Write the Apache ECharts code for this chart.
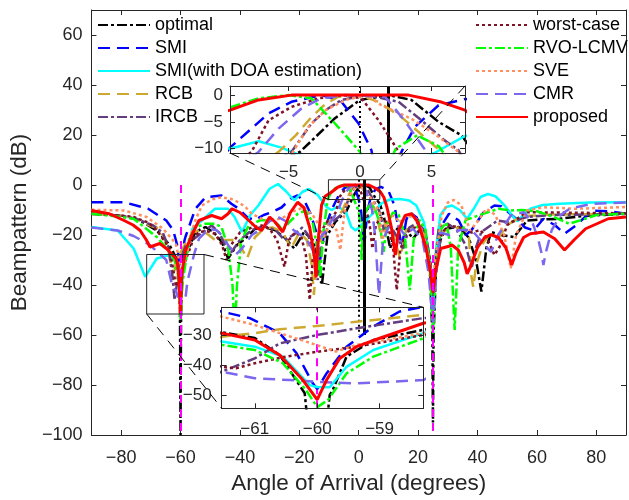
<!DOCTYPE html>
<html>
<head>
<meta charset="utf-8">
<script src="https://cdn.jsdelivr.net/npm/echarts@6/dist/echarts.min.js"></script>
<style>html,body{margin:0;padding:0;background:#fff;}#c{width:629px;height:500px;}</style>
</head>
<body>
<div id="c"></div>
<script>
// ---------- data (angle in degrees, beampattern in dB) ----------
const optimal = [[-90,-11.5],[-84,-11.8],[-78,-12.8],[-73.6,-14.2],[-68,-18.2],[-63.7,-24],[-61.53,-29.1],[-61,-31],[-60.6,-36.7],[-60.2,-49.4],[-60.1,-70],[-60,-100],[-59.9,-70],[-59.8,-50],[-59.75,-48.3],[-59.53,-37.2],[-59.1,-31.7],[-58.3,-28.3],[-55,-18.8],[-51.6,-16.8],[-48.9,-18.8],[-46,-23],[-44,-29.4],[-41,-24],[-38.2,-21.5],[-34.9,-17.5],[-31.5,-17],[-28.3,-18],[-25,-21],[-21.7,-25.4],[-18.4,-18.8],[-15.5,-22],[-13.5,-30],[-12.4,-40],[-10.5,-20],[-8,-15],[-6,-12.5],[-4.2,-10.6],[-1.75,-4.3],[0,-0.9],[2,0],[3.6,-0.9],[5.5,-5],[7.1,-7.5],[8.4,-12.2],[10.6,-25.4],[12,-19],[13.9,-16.2],[16,-18],[18.3,-21.5],[20.5,-18],[22.5,-22],[24,-35],[24.8,-60],[25,-95],[25.2,-60],[26,-35],[27.5,-22],[29.3,-17.5],[33.7,-16.8],[37,-21],[39.5,-30],[41.3,-42.6],[43,-25],[44.6,-18.8],[47.9,-20],[52.3,-20.8],[56.7,-14.2],[62,-13.8],[67.6,-13.5],[75,-12.5],[82,-12],[90,-11.5]];
const smi = [[-90,-6.9],[-79,-6.9],[-70.9,-9.5],[-64.8,-14.2],[-62.5,-18],[-61.53,-22.2],[-61.08,-24.4],[-60.6,-29.4],[-60.33,-36.1],[-60.07,-46.1],[-60,-48],[-59.85,-42.8],[-59.53,-33.9],[-59.1,-27.2],[-58.68,-22.2],[-58.3,-20.6],[-55,-9.5],[-51.6,-4.9],[-46.2,-4.2],[-42.9,-7.5],[-40.4,-9.5],[-37.5,-13],[-34.9,-14],[-32,-12],[-29.4,-10.9],[-26,-9],[-23,-5.5],[-20.6,-4.2],[-18,-7],[-16.2,-11.5],[-14.5,-18],[-13,-30],[-11.5,-18],[-9.1,-9.8],[-6.4,-3.4],[-4.8,-1.25],[-2.7,0],[-1.4,-0.9],[-0.1,-5.3],[0.8,-10.3],[1.8,-25],[2.9,-10.6],[3.85,-5.9],[5.5,-1.9],[7.4,-0.7],[10,-2.3],[12,-8],[14.5,-25],[16,-14],[17.2,-10.9],[19.5,-13],[22,-20],[24,-32],[25,-50],[26,-30],[28,-16],[30.4,-11.5],[33.7,-14.2],[36,-20],[38,-18],[42,-11],[45.7,-8.2],[48,-8.5],[52.3,-12.8],[56,-17],[58.9,-18.2],[62.2,-13.5],[66,-16],[69.3,-19.5],[73.1,-16.2],[78.6,-10.2],[84,-10.5],[90,-11.5]];
const smiDoa = [[-90,-16.8],[-81.2,-18.2],[-75.8,-25.4],[-71.9,-36.7],[-68,-29.4],[-63.7,-28],[-62,-30],[-61.53,-32.2],[-61,-33.9],[-60.55,-37.2],[-60.12,-46.7],[-60,-47.3],[-59.8,-47.4],[-59.53,-40.6],[-59.1,-35],[-58.3,-29.4],[-56,-17.5],[-52.8,-14.2],[-48.4,-9.5],[-44,-9.5],[-41.8,-12.8],[-39.3,-18.8],[-36.5,-12],[-33.8,-8.2],[-30,-1.5],[-27.2,0.4],[-24.5,-2.5],[-21.7,-6.2],[-19,-2.8],[-16.8,-1.6],[-13.8,-4],[-10.8,-8.9],[-9.1,-10],[-7.1,-8.6],[-5.5,-9.8],[-4.2,-11.2],[-2.5,-16.8],[-1,-18.2],[0.8,-16],[3,-13.5],[5.2,-10.8],[7.3,-7.7],[8.4,-6.9],[10.5,-5.8],[13.9,-5.6],[17,-6.2],[19.4,-8.2],[22,-15],[24,-30],[25,-50],[26,-26],[27.5,-12],[29.5,-8.8],[31.4,-8.2],[34,-10],[36.5,-13.5],[39,-9],[41,-4.8],[43.5,-3.6],[46,-4.5],[49,-8],[51.5,-12],[53.4,-14.5],[55.5,-12],[57.8,-9.5],[62,-8],[67.6,-7.5],[78,-7],[90,-6.9]];
const rcb = [[-90,-11.5],[-80,-12.3],[-75,-13.5],[-70.3,-16.2],[-67,-17.5],[-64.5,-24],[-63.2,-32],[-62.5,-38],[-62,-34],[-61.53,-30.6],[-61,-29.4],[-60.6,-28.1],[-60,-27],[-59.37,-25.6],[-58.3,-23.3],[-56,-19],[-53,-18],[-50.5,-20],[-48.4,-22],[-45,-22],[-41,-22],[-37.6,-29.4],[-35,-21],[-32,-17.5],[-29,-17],[-25.5,-19],[-22.8,-25.4],[-20,-19],[-17.5,-22],[-15.8,-32],[-15.1,-44],[-14.3,-32],[-12,-18],[-9.5,-14],[-7.5,-13.5],[-5.7,-10.6],[-4.5,-7.5],[-3.4,-4.1],[-2.4,-1.6],[-1.5,-0.3],[-0.1,0],[1.3,-1.25],[2.9,-4.1],[4.5,-7.8],[5.7,-10.6],[7.5,-20],[9,-15],[11,-17],[13.9,-29.4],[16,-18],[19,-16],[22,-19],[24,-30],[25,-45],[26,-30],[28,-19],[30.4,-17.5],[34,-17],[37,-18.8],[38,-37],[38.6,-41],[39.5,-32],[42,-23],[44,-20],[46.8,-21.5],[50,-16],[55,-12.5],[65,-11.8],[90,-11.5]];
const ircb = [[-90,-11.5],[-80,-12.3],[-75,-13.5],[-69.2,-16.2],[-66,-19],[-64,-25],[-62.6,-38],[-62,-46],[-61.53,-42.2],[-61,-37.8],[-60.6,-32.8],[-60,-30],[-59.37,-27.8],[-58.3,-24.4],[-56,-22],[-53.8,-20],[-49.5,-16.2],[-47,-19],[-45,-24],[-43,-27],[-40,-22],[-36,-18],[-32,-16.5],[-28,-18],[-25,-22],[-22,-20],[-19,-17],[-17,-20],[-15,-28],[-13.8,-38],[-12.8,-26],[-10.5,-17],[-8,-14],[-6,-12],[-4.8,-10.6],[-3.4,-5.3],[-2.4,-2.8],[-1.3,-0.9],[0.5,0],[2.7,-1.25],[4.3,-4.7],[5.9,-8.4],[6.9,-10.3],[8.5,-18],[10.5,-16],[12.5,-20],[15,-25.4],[17,-17],[20,-15],[22.5,-19],[24,-30],[25,-45],[26,-28],[27,-16.8],[30,-15.5],[33,-18],[36,-24],[38,-33.4],[39.5,-25],[41.3,-18.8],[46.8,-14.2],[51,-15],[56.7,-12.8],[65,-12],[90,-11.5]];
const worstCase = [[-90,-11.5],[-80,-12.2],[-75.8,-12.8],[-71,-15],[-68,-18],[-63.7,-25.4],[-62.3,-35],[-61.53,-40.6],[-61.3,-41.1],[-61,-39.4],[-60.5,-37.2],[-60,-35.6],[-59.37,-33.9],[-58.3,-30],[-57,-26],[-55.5,-21],[-53.8,-18.8],[-51,-18.5],[-48.4,-19.5],[-46,-24],[-44.5,-30],[-43,-24],[-40,-19],[-36,-17],[-32.7,-16.2],[-30,-17.5],[-27.5,-22],[-25,-32.7],[-23.5,-22],[-21.5,-19],[-19.5,-20],[-17.8,-28],[-16.5,-46],[-15.5,-30],[-13,-19],[-10.5,-14.5],[-8.5,-12.5],[-7.6,-10.6],[-6.4,-4.7],[-4.8,-2.2],[-2.9,-0.6],[-1.2,0],[0.1,-0.6],[1.3,-4.7],[2.2,-8.4],[2.7,-10.6],[3.7,-16],[4.6,-25.4],[5.8,-16],[7.5,-13],[9.5,-15],[11.5,-24],[12.8,-42],[14,-26],[16,-19],[19,-17],[22,-20],[24,-30],[25,-40],[26,-30],[28,-19],[30.4,-16.2],[34,-17],[38,-19],[41,-18],[43.5,-22],[45.7,-28],[47.4,-24.8],[50,-16],[56.7,-10.9],[65,-11],[90,-11.3]];
const rvoLcmv = [[-90,-11.5],[-82,-12.5],[-75.8,-13.5],[-68,-20.8],[-63.7,-26.7],[-62,-30],[-61.53,-33.3],[-61,-35],[-60.55,-39.4],[-60.18,-48.3],[-60,-54],[-59.83,-51.7],[-59.53,-42.8],[-59.1,-37.2],[-58.3,-31.1],[-57.1,-21.5],[-55,-17],[-51.6,-15.5],[-48.5,-15.5],[-46.2,-16.8],[-44,-25],[-42.5,-40],[-41.8,-60],[-41,-40],[-39.5,-22],[-37,-16.2],[-33,-14],[-29.4,-14.2],[-27,-16],[-25.6,-18.2],[-23.5,-15],[-20.5,-11.5],[-17.9,-10.2],[-15.5,-15],[-14,-25],[-13,-37],[-12,-20],[-10.5,-6],[-9.1,-2.3],[-7.1,-0.6],[-5,0],[-3.4,-0.6],[-1.75,-5.3],[0,-10.6],[0.5,-15],[1,-30],[1.5,-16],[2.5,-10],[4,-7.5],[5.5,-9.5],[7,-15],[8.4,-26.7],[9.5,-16],[11.5,-11],[13.5,-12],[15.5,-20],[17.2,-42],[18.5,-22],[20.5,-14],[22.5,-18],[24,-35],[25,-60],[26,-35],[27.5,-18],[29.5,-15],[31,-25],[32.3,-58],[33.5,-25],[36,-14],[40.3,-12.2],[43.5,-10.9],[47,-9.5],[51.2,-10.2],[55,-10],[60,-10.5],[65,-12.5],[70.9,-15.5],[75,-14],[80,-12],[90,-11.5]];
const sve = [[-90,-9.9],[-79,-10.2],[-71.4,-12.8],[-65.9,-17.5],[-62.6,-22],[-61.53,-23.9],[-61,-26.7],[-60.6,-29.4],[-60.18,-32.2],[-59.7,-35.5],[-59.37,-33.3],[-58.3,-29.4],[-56.5,-20],[-55,-14],[-52.8,-8.2],[-49.5,-5.8],[-46.2,-4.9],[-42.9,-5.6],[-40.4,-6.9],[-38,-9],[-36,-11.5],[-31.6,-14.2],[-26.1,-13.5],[-22,-10.5],[-18.4,-8.9],[-15.5,-12],[-13.5,-16],[-11.8,-20.8],[-9.5,-15],[-7.5,-18],[-6.2,-26],[-5.3,-16],[-4.7,-10.6],[-3.6,-5.9],[-2.4,-2.8],[-1,-0.9],[0.5,0],[1.5,-1.9],[3.6,-4.4],[5.2,-7.2],[6.9,-10.6],[8,-22],[9.5,-15],[11.7,-12.2],[14,-15],[16,-12],[19.4,-13.5],[22,-20],[24,-32],[25,-38],[26,-28],[28,-12],[30,-7],[32,-6],[34.5,-8],[37.5,-18.2],[40.3,-14.2],[43,-9.5],[46,-12],[49,-20],[51.2,-33.4],[53,-20],[56.7,-10.2],[62.2,-8.9],[73,-9.5],[90,-8.8]];
const cmr = [[-90,-17],[-81.2,-18.2],[-75.8,-20.4],[-70.3,-24],[-64.8,-30],[-62.6,-41.3],[-61.53,-42.2],[-61,-44.4],[-60.45,-45],[-60,-45.6],[-59.37,-46.1],[-58.3,-45],[-57.7,-38.7],[-55.5,-28],[-53.8,-21.5],[-50.5,-17.5],[-48,-18],[-46.2,-20],[-44,-24],[-41.5,-28],[-39.3,-25.4],[-36,-20],[-32.7,-17.5],[-30,-14.5],[-27.2,-12.8],[-24.5,-14.5],[-22,-18],[-19.5,-20],[-17.5,-22],[-15.7,-25.4],[-13.5,-22],[-11,-18],[-9,-14],[-7.1,-10.6],[-5.7,-6.25],[-4.1,-2.5],[-2.7,-0.6],[-1,0],[1.75,-0.3],[3.1,-4.7],[4.5,-10],[5.5,-20],[6.8,-44],[8.2,-22],[10,-17],[13,-16],[15.5,-20],[18.3,-17.5],[21.5,-22],[23.5,-35],[25,-55],[26.5,-30],[27.5,-19],[30.4,-20],[34,-18],[38,-18],[41,-22],[43.5,-25.4],[44.6,-26.7],[47,-20],[51.2,-12.2],[55.6,-10.9],[58.5,-15],[60.5,-22],[61.5,-27],[62.2,-32],[63,-27],[65,-18],[68,-12],[71,-9.5],[78.6,-7.5],[90,-7]];
const proposed = [[-90,-10.2],[-84,-11.5],[-79,-14.2],[-76,-16],[-73.6,-18.2],[-71.5,-22],[-70.3,-24.8],[-67,-23.4],[-64.8,-25.4],[-63,-27.5],[-61.53,-29.4],[-61,-31.7],[-60.6,-36.7],[-60.23,-45],[-60,-51.5],[-59.85,-45],[-59.64,-37.8],[-59.37,-33.9],[-59,-31.1],[-58.3,-26.1],[-56,-19.5],[-53.8,-14.2],[-49.5,-12.2],[-46.2,-13.5],[-44,-11.5],[-42.7,-9.5],[-40,-11],[-37,-14.2],[-34.5,-17],[-32.7,-18.2],[-30,-12.8],[-28,-15],[-25.6,-18.8],[-23,-11],[-20.6,-6.9],[-18.5,-9],[-16.5,-17],[-15,-28],[-14.4,-37],[-13.5,-20],[-12.5,-8],[-11.3,-4.5],[-9.1,-2.8],[-7.1,-0.9],[-4.8,0],[0,0],[3.4,0],[5.7,-1.3],[7.35,-2.8],[8.5,-5],[9.5,-8.9],[11,-17],[12.3,-28],[13.5,-18],[15.6,-12.2],[17.8,-11.5],[20,-15],[22.7,-25.4],[24.2,-35],[25,-43],[25.8,-35],[27.6,-25.4],[30.4,-24.5],[31.4,-24],[33.5,-26],[35.5,-31],[36.5,-35.5],[37.5,-33],[40,-25],[42.4,-21],[44.6,-19.9],[47,-21],[49.5,-25],[51.5,-32],[53,-27],[55.5,-21],[57.8,-19.5],[62.2,-18.8],[66,-21.5],[69.3,-26],[72.5,-22],[76.4,-17.5],[84,-13.5],[90,-12.8]];

const seriesNames = ['optimal','SMI','SMI(with DOA estimation)','RCB','IRCB','worst-case','RVO-LCMV','SVE','CMR','proposed'];
const legendLeftNames = ['optimal','SMI','SMI(with DOA estimation)','RCB','IRCB'];
const legendRightNames = ['worst-case','RVO-LCMV','SVE','CMR','proposed'];

const interferers = [-60, 25];
const presumedDOA = 0;
const actualDOA = 2;
const doaLineBottom = -60;

const mainXRange = [-90, 90];
const mainYRange = [-100, 70];
const inset1XRange = [-9.1, 7.35];
const inset1YRange = [-10.8, 1.7];
const inset2XRange = [-61.53, -58.3];
const inset2YRange = [-54.4, -20.8];
const zoomBox1 = [[-10.2, -5.8], [7.1, 2.1]];
const zoomBox2 = [[-71.4, -51.6], [-52.1, -27.8]];

// ---------- styles ----------
const FONT = "'Liberation Sans', Arial, Helvetica, sans-serif";
const AX = '#262626';
const DASH = [12, 7], DASHDOT = [10, 3, 3, 3], DOT = [3, 3];
const datasets = [optimal, smi, smiDoa, rcb, ircb, worstCase, rvoLcmv, sve, cmr, proposed];
const styles = [
  {color:'#000000', width:2.5, type:DASHDOT},
  {color:'#0000FF', width:2.5, type:DASH},
  {color:'#00FFFF', width:2.5, type:'solid'},
  {color:'#CDAA2F', width:2.5, type:DASH},
  {color:'#633D7F', width:2.5, type:DASHDOT},
  {color:'#7F1326', width:2.5, type:DOT},
  {color:'#00FF00', width:2.5, type:DASHDOT},
  {color:'#FF8F5E', width:2.5, type:DOT},
  {color:'#7B68EE', width:2.5, type:DASH},
  {color:'#FF0000', width:3, type:'solid'}
];

const minus = s => String(s).replace('-', '\u2212');
const multOf = (v, m) => Math.abs(v / m - Math.round(v / m)) < 1e-6;

function axisBase(z) {
  return {
    type: 'value', z: z,
    axisLine: {show: true, onZero: false, lineStyle: {color: AX, width: 1}},
    axisTick: {show: true, inside: true, length: 5, lineStyle: {color: AX, width: 1}},
    splitLine: {show: false},
    axisLabel: {show: false}
  };
}
function mkX(grid, range, split, pos, label, z, step) {
  const a = axisBase(z);
  Object.assign(a, {gridIndex: grid, min: range[0], max: range[1], splitNumber: split, position: pos});
  if (label) a.axisLabel = Object.assign({show: true, color: AX, fontFamily: FONT, formatter: v => multOf(v, step) ? minus(v) : ''}, label);
  return a;
}

const xAxes = [
  Object.assign(mkX(0, mainXRange, 9, 'bottom', {fontSize: 18, margin: 14}, 0, 20), {
    name: 'Angle of Arrival (degrees)', nameLocation: 'middle', nameGap: 37,
    nameTextStyle: {fontSize: 22.5, color: AX, fontFamily: FONT}
  }),
  mkX(0, mainXRange, 9, 'top', null, 0, 20),
  mkX(1, inset1XRange, 3, 'bottom', {fontSize: 17, margin: 11}, 9, 5),
  mkX(1, inset1XRange, 3, 'top', null, 9, 5),
  mkX(2, inset2XRange, 3, 'bottom', {fontSize: 17, margin: 13}, 9, 1),
  mkX(2, inset2XRange, 3, 'top', null, 9, 1)
];
const yAxes = [
  Object.assign(mkX(0, mainYRange, 9, 'left', {fontSize: 18, margin: 9}, 0, 20), {
    interval: 20,
    name: 'Beampattern (dB)', nameLocation: 'middle', nameGap: 52, nameRotate: 90,
    nameTextStyle: {fontSize: 22.5, color: AX, fontFamily: FONT}
  }),
  Object.assign(mkX(0, mainYRange, 9, 'right', null, 0, 20), {interval: 20}),
  mkX(1, inset1YRange, 2, 'left', {fontSize: 17, margin: 7}, 9, 5),
  mkX(1, inset1YRange, 2, 'right', null, 9, 5),
  mkX(2, inset2YRange, 3, 'left', {fontSize: 17, margin: 10}, 9, 10),
  mkX(2, inset2YRange, 3, 'right', null, 9, 10)
];

const series = [];
[[0, 2], [2, 7], [4, 7]].forEach(([ax, z]) => {
  seriesNames.forEach((name, i) => {
    series.push({
      name: name, type: 'line', xAxisIndex: ax, yAxisIndex: ax, z: z,
      data: datasets[i], symbol: 'none', showSymbol: false, clip: true,
      lineStyle: {color: styles[i].color, width: styles[i].width, type: styles[i].type},
      itemStyle: {color: styles[i].color}, emphasis: {disabled: true}
    });
  });
});

function vmark(x, y1, y2, color, type, width) {
  return [{coord: [x, y1], lineStyle: {color: color, type: type, width: width}}, {coord: [x, y2]}];
}
const mlBase = {symbol: ['none', 'none'], silent: true, label: {show: false}, animation: false};
series.push({
  type: 'line', xAxisIndex: 0, yAxisIndex: 0, z: 3, data: [],
  markLine: Object.assign({}, mlBase, {data: [
    vmark(presumedDOA, zoomBox1[1][1], doaLineBottom, '#000', [2, 3], 2),
    vmark(actualDOA, zoomBox1[1][1], doaLineBottom, '#000', 'solid', 3),
    vmark(interferers[0], 0, mainYRange[0], '#FF00FF', [8, 6], 2),
    vmark(interferers[1], 0, mainYRange[0], '#FF00FF', [8, 6], 2)
  ]})
});
series.push({
  type: 'line', xAxisIndex: 2, yAxisIndex: 2, z: 8, data: [],
  markLine: Object.assign({}, mlBase, {data: [
    vmark(presumedDOA, inset1YRange[0], inset1YRange[1], '#000', [2, 3], 2),
    vmark(actualDOA, inset1YRange[0], inset1YRange[1], '#000', 'solid', 3)
  ]})
});
series.push({
  type: 'line', xAxisIndex: 4, yAxisIndex: 4, z: 8, data: [],
  markLine: Object.assign({}, mlBase, {data: [
    vmark(interferers[0], inset2YRange[0], inset2YRange[1], '#FF00FF', [8, 6], 2)
  ]})
});

const legendCommon = {
  orient: 'vertical', top: 15, itemWidth: 52, itemHeight: 14, itemGap: 3, padding: 0,
  selectedMode: false,
  itemStyle: {opacity: 0},
  textStyle: {fontSize: 18, color: '#000', fontFamily: FONT, lineHeight: 20}
};

const chart = echarts.init(document.getElementById('c'), null, {renderer: 'canvas'});
chart.setOption({
  animation: false,
  backgroundColor: '#fff',
  textStyle: {fontFamily: FONT},
  grid: [
    {left: 84, top: 10, right: -2, bottom: 63, z: 0},
    {left: 230, top: 86, width: 235, height: 67, show: true, backgroundColor: '#fff', borderWidth: 0, z: 5},
    {left: 221.7, top: 307.3, width: 201.6, height: 101, show: true, backgroundColor: '#fff', borderWidth: 0, z: 5}
  ],
  legend: [
    Object.assign({}, legendCommon, {left: 97, data: legendLeftNames}),
    Object.assign({}, legendCommon, {left: 475, data: legendRightNames})
  ],
  xAxis: xAxes,
  yAxis: yAxes,
  series: series
});

// zoom boxes and connector lines, positioned through the axes
function P(ax, pt) { return chart.convertToPixel({xAxisIndex: ax, yAxisIndex: ax}, pt); }
function rectFrom(ax, box) {
  const a = P(ax, box[0]), b = P(ax, box[1]);
  return {x: Math.min(a[0], b[0]), y: Math.min(a[1], b[1]), width: Math.abs(b[0] - a[0]), height: Math.abs(b[1] - a[1])};
}
const b1bl = P(0, zoomBox1[0]), b1tr = P(0, zoomBox1[1]);
const b2bl = P(0, zoomBox2[0]), b2tr = P(0, zoomBox2[1]);
const i1bl = P(2, [inset1XRange[0], inset1YRange[0]]), i1tr = P(2, [inset1XRange[1], inset1YRange[1]]);
const i2bl = P(4, [inset2XRange[0], inset2YRange[0]]), i2tr = P(4, [inset2XRange[1], inset2YRange[1]]);
const conn = (a, b) => ({type: 'line', z: 20, silent: true, shape: {x1: a[0], y1: a[1], x2: b[0], y2: b[1]}, style: {stroke: '#000', lineWidth: 1, lineDash: [10, 7]}});
chart.setOption({
  graphic: [
    {type: 'rect', z: 19, silent: true, shape: rectFrom(0, zoomBox1), style: {fill: 'none', stroke: AX, lineWidth: 1}},
    {type: 'rect', z: 19, silent: true, shape: rectFrom(0, zoomBox2), style: {fill: 'none', stroke: AX, lineWidth: 1}},
    conn(i1bl, b1bl), conn(i1tr, b1tr), conn(b2tr, i2tr), conn(b2bl, i2bl)
  ]
});
</script>
</body>
</html>
